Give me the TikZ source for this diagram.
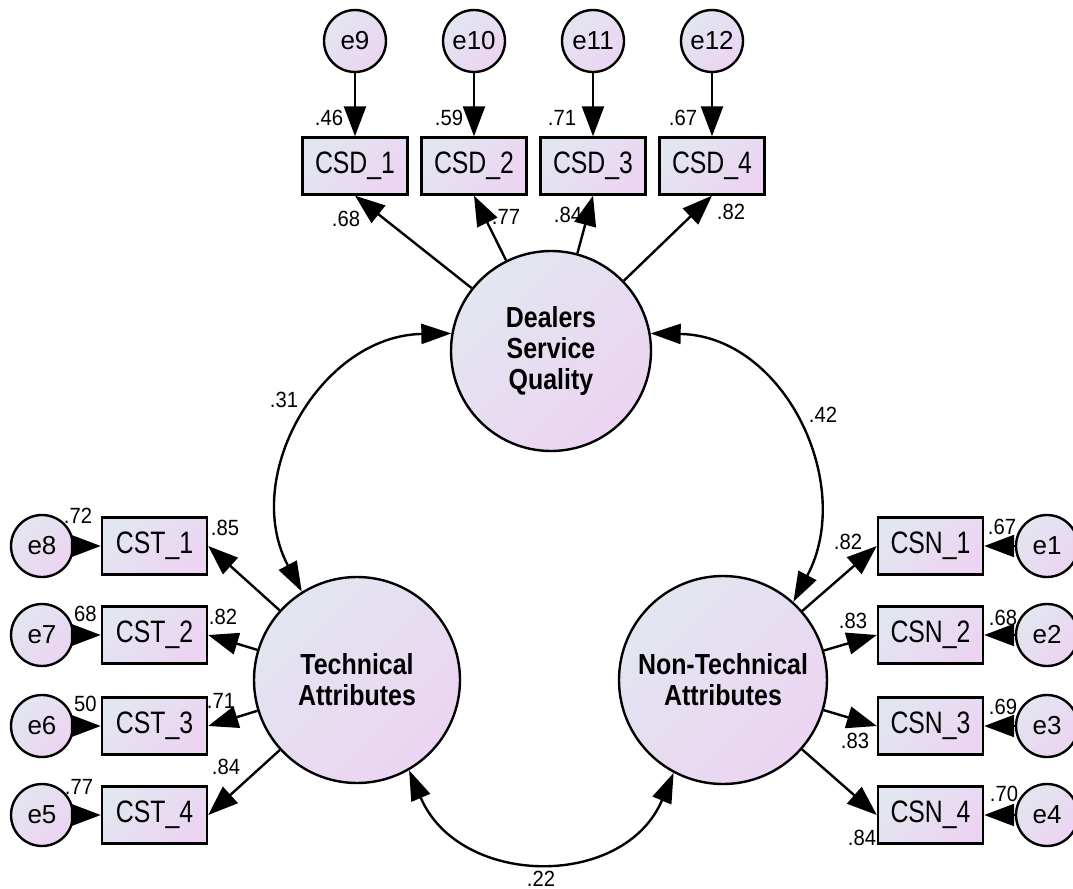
\documentclass[tikz,border=0pt]{standalone}
\usepackage{fontspec}
\setmainfont{Liberation Sans}
\newfontfamily\boxfont{Liberation Sans}[FakeStretch=0.8]
\newfontfamily\numfont{Liberation Sans}[FakeStretch=0.92]
\newfontfamily\latfont{Liberation Sans}[FakeStretch=0.86]
\usetikzlibrary{arrows.meta}
\definecolor{fillblue}{RGB}{226,230,240}
\definecolor{fillpink}{RGB}{236,212,242}

\begin{document}
\begin{tikzpicture}[x=0.5pt, y=0.5pt, line width=1.2pt,
  every node/.style={inner sep=0pt},
  grad/.style={draw=black, line width=1.2pt, top color=fillblue, bottom color=fillpink, shading angle=45},
  latent/.style={grad, circle, minimum size=#1, align=center,
    font=\latfont\fontsize{14.5}{15.5}\selectfont\bfseries},
  obs/.style={grad, rectangle, minimum width=52.5pt, minimum height=28.5pt,
    font=\boxfont\fontsize{15.5}{17}\selectfont},
  err/.style={grad, circle, minimum size=31pt, font=\fontsize{13}{15}\selectfont},
  coef/.style={font=\numfont\fontsize{11}{12}\selectfont},
  reg/.style={-{Triangle[length=15pt, width=11pt]}},
  cov/.style={{Triangle[length=15pt, width=10pt]}-{Triangle[length=15pt, width=10pt]}, looseness=1.12}
]
  % Frame: 1073 x 889 px
  \useasboundingbox (0,0) rectangle (1073,-889);

  % Latent factors
  \node[latent=100pt] (DSQ) at (551,-351) {Dealers\\Service\\Quality};
  \node[latent=103pt] (TA) at (357,-680) {Technical\\Attributes};
  \node[latent=104pt] (NTA) at (723,-680) {Non-Technical\\Attributes};

  % Dealers service indicators (top)
  \foreach \i/\x/\e in {1/355/9, 2/474/10, 3/593/11, 4/712/12}{
    \node[err] (e\e) at (\x,-41) {e\e};
    \node[obs] (CSD\i) at (\x,-166) {CSD\_\i};
    \draw[reg] (e\e) -- (CSD\i);
    \draw[reg] (DSQ) -- (CSD\i.south);
  }

  % Technical indicators (left)
  \foreach \i/\y/\e in {1/546/8, 2/635/7, 3/726/6, 4/815/5}{
    \node[obs] (CST\i) at (154.5,-\y) {CST\_\i};
    \node[err] (e\e) at (42,-\y) {e\e};
    \draw[reg] (e\e) -- (CST\i);
    \draw[reg] (TA) -- (CST\i.east);
  }

  % Non-technical indicators (right)
  \foreach \i/\y in {1/546, 2/635, 3/726, 4/815}{
    \node[obs] (CSN\i) at (930.5,-\y) {CSN\_\i};
    \node[err] (e\i) at (1047,-\y) {e\i};
    \draw[reg] (e\i) -- (CSN\i);
    \draw[reg] (NTA) -- (CSN\i.west);
  }

  % Correlations
  \draw[cov] (DSQ.170) to[out=181, in=118] (TA.122);
  \draw[cov] (DSQ.10) to[out=-1, in=62] (NTA.48);
  \draw[cov, looseness=1.23] (TA.-60) to[out=-67, in=-113] (NTA.-118);

  % Squared multiple correlations
  \foreach \n/\x/\y/\t in {r9/329/118/.46, r10/449/118/.59, r11/562/118/.71, r12/683/118/.67,
      r8/78/516/.72, r7/85.5/614/68, r6/85.5/704/50, r5/79/787/.77,
      r1/1002/527/.67, r2/1003/618/.68, r3/1003/707/.69, r4/1004/794/.70}{
    \node[coef] (\n) at (\x,-\y) {\t};
  }

  % Loadings
  \foreach \n/\x/\y/\t in {d1/346/219/.68, d2/506/217/.77, d3/568/215/.84, d4/731/212/.82,
      t1/225/528/.85, t2/223/617/.82, t3/221/701/.71, t4/226/767/.84,
      n1/848/542/.82, n2/853/621/.83, n3/855/741/.83, n4/862/838/.84}{
    \node[coef] (\n) at (\x,-\y) {\t};
  }

  % Correlation values
  \node[coef] (c12) at (284,-400) {.31};
  \node[coef] (c13) at (823,-415) {.42};
  \node[coef] (c23) at (541,-879) {.22};
\end{tikzpicture}
\end{document}
